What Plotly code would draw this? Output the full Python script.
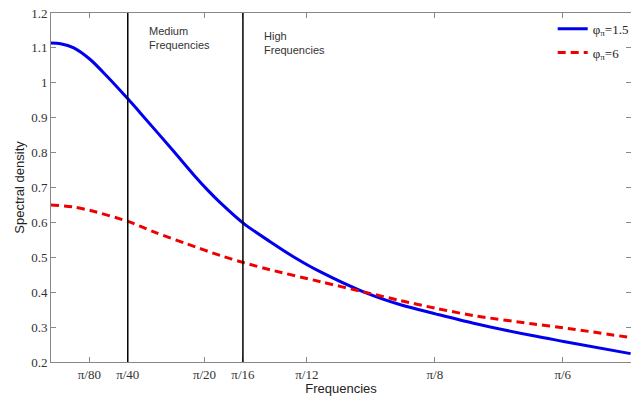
import math
import plotly.graph_objects as go

# Frequencies (radians)
freq_blue = [0.0, 0.0097, 0.0233, 0.0404, 0.0575, 0.0786, 0.0916, 0.1257, 0.1461,
             0.1598, 0.1734, 0.1980, 0.2246, 0.2484, 0.2758, 0.3197, 0.3576,
             0.3934, 0.4323, 0.4937, 0.5244, 0.5930]
dens_blue = [1.114, 1.112, 1.100, 1.066, 1.018, 0.954, 0.913, 0.803, 0.736,
             0.694, 0.656, 0.595, 0.544, 0.501, 0.458, 0.401, 0.364,
             0.338, 0.311, 0.275, 0.259, 0.224]

freq_red = [0.0, 0.0233, 0.0404, 0.0786, 0.1052, 0.1394, 0.1734, 0.1980, 0.2246,
            0.2758, 0.3197, 0.3576, 0.3934, 0.4323, 0.4937, 0.5244, 0.5930]
dens_red = [0.650, 0.644, 0.634, 0.603, 0.573, 0.538, 0.505, 0.484, 0.464,
            0.430, 0.401, 0.376, 0.354, 0.333, 0.309, 0.298, 0.270]

tick_vals = [math.pi / 80, math.pi / 40, math.pi / 20, math.pi / 16,
             math.pi / 12, math.pi / 8, math.pi / 6]
tick_text = ["π/80", "π/40", "π/20", "π/16", "π/12", "π/8", "π/6"]

band_edges = [math.pi / 40, math.pi / 16]
band_labels = ["Medium<br>Frequencies", "High<br>Frequencies"]

y_ticks = [0.2, 0.3, 0.4, 0.5, 0.6, 0.7, 0.8, 0.9, 1.0, 1.1, 1.2]
y_text = ["0.2", "0.3", "0.4", "0.5", "0.6", "0.7", "0.8", "0.9", "1", "1.1", "1.2"]

serif = "Liberation Serif"
sans = "Liberation Sans"

fig = go.Figure()
fig.add_trace(go.Scatter(x=freq_blue, y=dens_blue, mode="lines", legendgroup="a",
                         line=dict(color="#0000ee", width=3, shape="spline", smoothing=0.8),
                         name="φ<sub>π</sub>=1.5"))
fig.add_trace(go.Scatter(x=freq_red, y=dens_red, mode="lines", legendgroup="b",
                         line=dict(color="#ee0000", width=3, dash="8px,5px",
                                   shape="spline", smoothing=0.8),
                         name="φ<sub>π</sub>=6"))

for e in band_edges:
    fig.add_shape(type="line", xref="x", yref="y", x0=e, x1=e, y0=0.2, y1=1.2,
                  line=dict(color="black", width=1.5))

fig.add_annotation(x=band_edges[0], y=1.2, xref="x", yref="y", text=band_labels[0],
                   showarrow=False, xanchor="left", yanchor="top", align="left",
                   xshift=19, yshift=-10, font=dict(family=sans, size=11, color="#333"))
fig.add_annotation(x=band_edges[1], y=1.2, xref="x", yref="y", text=band_labels[1],
                   showarrow=False, xanchor="left", yanchor="top", align="left",
                   xshift=19, yshift=-15, font=dict(family=sans, size=11, color="#333"))

fig.update_layout(
    width=631, height=396,
    margin=dict(l=51, r=0, t=13, b=34, autoexpand=False),
    paper_bgcolor="white", plot_bgcolor="white",
    showlegend=True,
    legend=dict(x=0.865, y=0.998, xanchor="left", yanchor="top",
                bgcolor="rgba(0,0,0,0)", font=dict(family=serif, size=13, color="#222"),
                itemwidth=30, tracegroupgap=4),
    xaxis=dict(range=[0, 0.5934], tickvals=tick_vals, ticktext=tick_text,
               automargin=False,
               showgrid=False, zeroline=False, showline=True, linecolor="#888",
               linewidth=1, mirror="ticks", ticks="inside", ticklen=5, tickcolor="#888",
               tickfont=dict(family=serif, size=13, color="#333"),
               title=dict(text="Frequencies", font=dict(family=sans, size=13, color="#222"),
                          standoff=1)),
    yaxis=dict(range=[0.2, 1.2], tickvals=y_ticks, ticktext=y_text,
               automargin=False,
               showgrid=False, zeroline=False, showline=True, linecolor="#888",
               linewidth=1, mirror="ticks", ticks="inside", ticklen=5, tickcolor="#888",
               tickfont=dict(family=serif, size=13, color="#333"),
               title=dict(text="Spectral density", font=dict(family=sans, size=13, color="#222"),
                          standoff=3)),
)

fig.write_html("out.html", config={"displayModeBar": False},
               post_script="document.body.style.margin='0';document.body.style.overflow='hidden';")
